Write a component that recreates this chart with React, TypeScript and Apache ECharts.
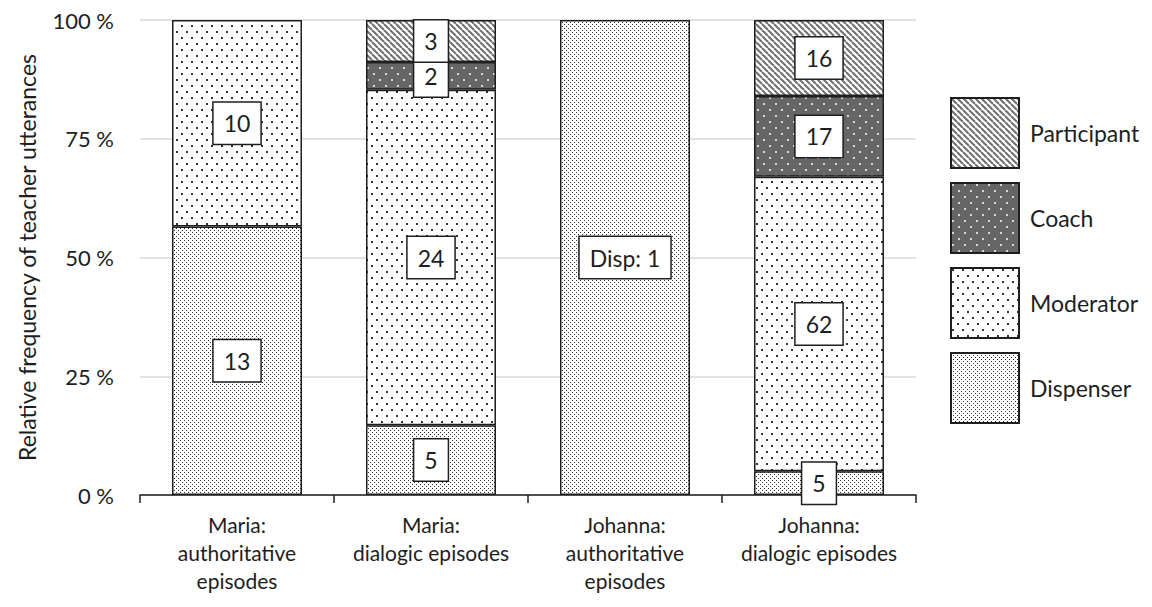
import React, { useEffect, useRef } from "react";
import * as echarts from "echarts";

const categories = [
  "Maria:\nauthoritative\nepisodes",
  "Maria:\ndialogic episodes",
  "Johanna:\nauthoritative\nepisodes",
  "Johanna:\ndialogic episodes",
];
const roles = ["Dispenser", "Moderator", "Coach", "Participant"];
const dispenserCounts = [13, 5, 1, 5];
const moderatorCounts = [10, 24, 0, 62];
const coachCounts = [0, 2, 0, 17];
const participantCounts = [0, 3, 0, 16];
const yTicks = [0, 25, 50, 75, 100];

const FONT = "Lato, 'Noto Sans', sans-serif";
const INK = "#1e1e1e";

function makeTile(w: number, h: number, draw: (ctx: CanvasRenderingContext2D) => void) {
  const c = document.createElement("canvas");
  c.width = w;
  c.height = h;
  const ctx = c.getContext("2d")!;
  draw(ctx);
  return c;
}

function patterns() {
  const dispenser = makeTile(4, 4, (ctx) => {
    ctx.fillStyle = "#ffffff";
    ctx.fillRect(0, 0, 4, 4);
    ctx.fillStyle = "#303030";
    ctx.fillRect(0, 0, 1, 1);
    ctx.fillRect(2, 2, 1, 1);
  });
  const moderator = makeTile(10, 12, (ctx) => {
    ctx.fillStyle = "#ffffff";
    ctx.fillRect(0, 0, 10, 12);
    ctx.fillStyle = "#333333";
    ctx.fillRect(1, 1, 2, 2);
    ctx.fillRect(6, 7, 2, 2);
  });
  const coach = makeTile(12, 12, (ctx) => {
    ctx.fillStyle = "#666666";
    ctx.fillRect(0, 0, 12, 12);
    ctx.fillStyle = "#d8d8d8";
    ctx.fillRect(1, 1, 2, 2);
    ctx.fillRect(7, 7, 2, 2);
  });
  const participant = makeTile(6, 6, (ctx) => {
    ctx.fillStyle = "#ffffff";
    ctx.fillRect(0, 0, 6, 6);
    ctx.strokeStyle = "#707070";
    ctx.lineWidth = 2;
    for (let k = -6; k <= 12; k += 6) {
      ctx.beginPath();
      ctx.moveTo(k, 0);
      ctx.lineTo(k + 6, 6);
      ctx.stroke();
    }
  });
  return { dispenser, moderator, coach, participant };
}

export default function App() {
  const ref = useRef<HTMLDivElement>(null);
  useEffect(() => {
    if (!ref.current) return;
    const chart = echarts.init(ref.current, undefined, { renderer: "svg" });
    const p = patterns();
    const counts = [dispenserCounts, moderatorCounts, coachCounts, participantCounts];
    const fills = [p.dispenser, p.moderator, p.coach, p.participant];
    const totals = categories.map((_, i) =>
      counts.reduce((s, arr) => s + arr[i], 0)
    );
    const series = roles.map((name, si) => ({
      name,
      type: "bar",
      stack: "total",
      barCategoryGap: "33%",
      data: counts[si].map((v, i) => (v > 0 ? (v / totals[i]) * 100 : null)),
      itemStyle: {
        color: { image: fills[si], repeat: "repeat" },
        borderColor: INK,
        borderWidth: 1.5,
      },
      label: {
        show: true,
        position: "inside",
        formatter: (prm: any) => {
          const c = counts[si][prm.dataIndex];
          if (!c) return "";
          return si === 0 && prm.dataIndex === 2 ? `Disp: ${c}` : `${c}`;
        },
        fontFamily: FONT,
        fontSize: 23,
        lineHeight: 24,
        color: INK,
        backgroundColor: "#ffffff",
        borderColor: INK,
        borderWidth: 1.5,
        padding: [9, 10, 8, 10],
      },
      emphasis: { disabled: true },
    }));

    chart.setOption({
      animation: false,
      backgroundColor: "#ffffff",
      textStyle: { fontFamily: FONT },
      grid: { left: 140, right: 236, top: 20, bottom: 112 },
      legend: {
        data: ["Participant", "Coach", "Moderator", "Dispenser"],
        orient: "vertical",
        left: 945,
        top: 92,
        itemWidth: 68,
        itemHeight: 70,
        itemGap: 13,
        icon: "rect",
        selectedMode: false,
        itemStyle: { borderColor: INK, borderWidth: 2 },
        textStyle: {
          fontFamily: FONT,
          fontSize: 23,
          color: INK,
          padding: [0, 0, 0, 6],
        },
      },
      xAxis: {
        type: "category",
        data: categories,
        axisLine: { lineStyle: { color: INK, width: 1.5 } },
        axisTick: { show: true, length: 8, lineStyle: { color: INK, width: 1.5 } },
        axisLabel: {
          fontFamily: FONT,
          fontSize: 21,
          lineHeight: 28,
          color: INK,
          margin: 15,
          interval: 0,
        },
      },
      yAxis: {
        type: "value",
        min: 0,
        max: 100,
        interval: 25,
        name: "Relative frequency of teacher utterances",
        nameLocation: "middle",
        nameGap: 102,
        nameTextStyle: { fontFamily: FONT, fontSize: 23, color: INK },
        axisLabel: {
          fontFamily: FONT,
          fontSize: 22,
          color: INK,
          margin: 26,
          formatter: (v: number) => (yTicks.includes(v) ? `${v} %` : ""),
        },
        axisLine: { show: false },
        splitLine: { lineStyle: { color: "#d9d9d9", width: 1.5 } },
      },
      series,
    });
    return () => chart.dispose();
  }, []);
  return <div ref={ref} style={{ width: 1152, height: 607, margin: -8 }} />;
}
